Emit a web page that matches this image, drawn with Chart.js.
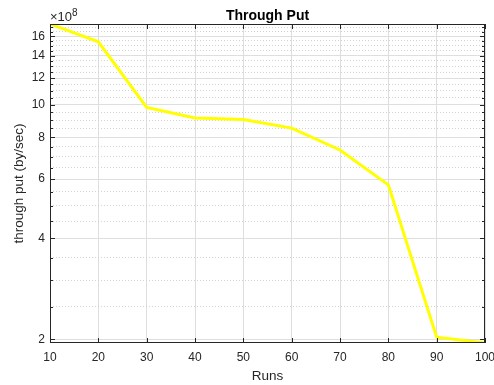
<!DOCTYPE html>
<html>
<head>
<meta charset="utf-8">
<script src="https://cdn.jsdelivr.net/npm/chart.js@4/dist/chart.umd.min.js"></script>
<style>
    html, body { margin: 0; padding: 0; background: #ffffff; }
</style>
</head>
<body>
<canvas id="chart" width="494" height="385"></canvas>
<script>
// data (y values in bytes/sec)
const runs = [10, 20, 30, 40, 50, 60, 70, 80, 90, 100];
const throughput = [17.4e8, 15.4e8, 9.82e8, 9.13e8, 9.03e8, 8.52e8, 7.33e8, 5.77e8, 2.03e8, 1.95e8];

// tick labels (×10^8)
const xTicks = [10, 20, 30, 40, 50, 60, 70, 80, 90, 100];
const yMajorTicks = [2, 4, 6, 8, 10, 12, 14, 16];
const yMinorTicks = [2.5, 3, 3.5, 4.5, 5, 5.5, 6.5, 7, 7.5, 8.5, 9, 9.5, 10.5, 11, 11.5,
                     12.5, 13, 13.5, 14.5, 15, 15.5, 16.5, 17];
const yExponent = 8;

const sFont = "'Liberation Sans', Arial, sans-serif";
const sAxisColor = "#262626";

function isMajor(v) {
    return yMajorTicks.some(t => Math.abs(t * 1e8 - v) < 1);
}

// box, inward ticks, title and exponent like matlab
const matlabBox = {
    id: "matlabBox",
    afterDraw(chart) {
        const { ctx, chartArea: a, scales: { x, y } } = chart;
        ctx.save();
        ctx.strokeStyle = sAxisColor;
        ctx.lineWidth = 1;
        ctx.beginPath();
        y.ticks.forEach(t => {
            const py = Math.round(y.getPixelForValue(t.value)) + 0.5;
            const len = isMajor(t.value) ? 5 : 3;
            ctx.moveTo(a.left, py); ctx.lineTo(a.left + len, py);
            ctx.moveTo(a.right, py); ctx.lineTo(a.right - len, py);
        });
        x.ticks.forEach(t => {
            const px = Math.round(x.getPixelForValue(t.value)) + 0.5;
            ctx.moveTo(px, a.bottom); ctx.lineTo(px, a.bottom - 5);
            ctx.moveTo(px, a.top); ctx.lineTo(px, a.top + 5);
        });
        ctx.stroke();
        ctx.strokeRect(Math.round(a.left) + 0.5, Math.round(a.top) + 0.5,
                       Math.round(a.width) - 1, Math.round(a.height) - 1);

        // title
        ctx.fillStyle = "#000000";
        ctx.font = "bold 14px " + sFont;
        ctx.textAlign = "center";
        ctx.textBaseline = "alphabetic";
        ctx.fillText("Through Put", (a.left + a.right) / 2, 19.5);

        // exponent
        ctx.fillStyle = sAxisColor;
        ctx.font = "13px " + sFont;
        ctx.textAlign = "left";
        ctx.fillText("\u00d710", a.left, 21);
        let w = ctx.measureText("\u00d710").width;
        ctx.font = "10px " + sFont;
        ctx.fillText(String(yExponent), a.left + w, 15.5);
        ctx.restore();
    }
};

const ctx = document.getElementById("chart").getContext("2d");

new Chart(ctx, {
    type: "line",
    data: {
        datasets: [{
            data: runs.map((r, i) => ({ x: r, y: throughput[i] })),
            borderColor: "#ffff00",
            borderWidth: 3,
            pointRadius: 0,
            fill: false,
            tension: 0
        }]
    },
    options: {
        responsive: false,
        animation: false,
        layout: { padding: { top: 24, right: 9, left: 0, bottom: 0 } },
        plugins: {
            legend: { display: false },
            tooltip: { enabled: false },
            title: { display: false }
        },
        scales: {
            x: {
                type: "linear",
                min: runs[0],
                max: runs[runs.length - 1],
                afterBuildTicks: s => { s.ticks = xTicks.map(v => ({ value: v })); },
                afterFit: s => { s.height = 42; s.paddingLeft = 0; s.paddingRight = 0; },
                ticks: {
                    autoSkip: false,
                    maxRotation: 0,
                    padding: 7,
                    color: sAxisColor,
                    font: { family: sFont, size: 12 }
                },
                grid: { color: "#dedede", lineWidth: 1, drawTicks: false },
                border: { display: false },
                title: {
                    display: true,
                    text: "Runs",
                    color: sAxisColor,
                    font: { family: sFont, size: 13.5 },
                    padding: { top: 0, bottom: 1 }
                }
            },
            y: {
                type: "logarithmic",
                min: Math.min(...throughput),
                max: Math.max(...throughput),
                afterBuildTicks: s => {
                    s.ticks = yMajorTicks.concat(yMinorTicks)
                        .sort((p, q) => p - q)
                        .map(v => ({ value: v * Math.pow(10, yExponent) }));
                },
                afterFit: s => { s.width = 50; s.paddingTop = 0; s.paddingBottom = 0; },
                ticks: {
                    autoSkip: false,
                    padding: 5,
                    color: sAxisColor,
                    font: { family: sFont, size: 12 },
                    callback: v => isMajor(v) ? String(Math.round(v / Math.pow(10, yExponent))) : ""
                },
                grid: {
                    drawTicks: false,
                    color: c => (c.tick && !isMajor(c.tick.value)) ? "#d2d2d2" : "#dedede"
                },
                border: {
                    display: false,
                    dash: c => (c.tick && !isMajor(c.tick.value)) ? [1, 2] : []
                },
                title: {
                    display: true,
                    text: "through put (by/sec)",
                    color: sAxisColor,
                    font: { family: sFont, size: 13.5 },
                    padding: { top: 11, bottom: 0 }
                }
            }
        }
    },
    plugins: [matlabBox]
});
</script>
</body>
</html>
